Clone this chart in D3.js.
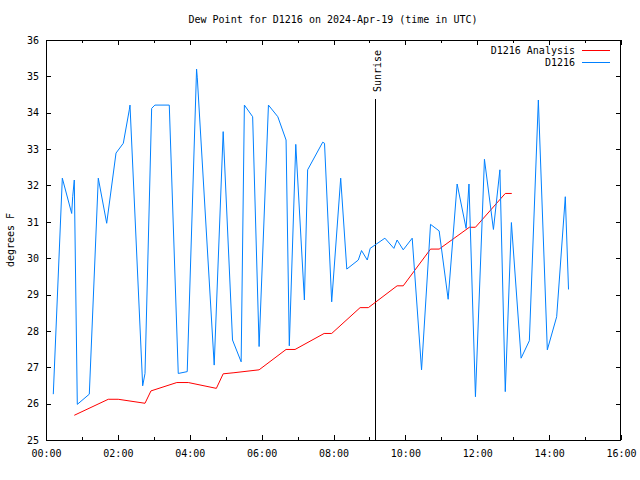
<!DOCTYPE html>
<html><head><meta charset="utf-8">
<script src="https://cdn.jsdelivr.net/npm/d3@7"></script>
<style>
html,body{margin:0;padding:0;background:#fff;}
text{font-family:"DejaVu Sans Mono",monospace;font-size:10px;fill:#000;}
</style></head>
<body>
<svg id="c" width="640" height="480"></svg>
<script>
// ---- data (hours UTC, degrees F) ----
const obsHours = [0.203,0.454,0.715,0.743,0.787,0.871,1.205,1.455,1.689,1.948,2.151,2.318,2.337,2.69,2.755,2.94,3.03,3.43,3.68,3.93,4.19,4.21,4.68,4.93,5.19,5.43,5.52,5.75,5.93,6.19,6.45,6.68,6.77,6.95,7.19,7.28,7.70,7.75,7.95,8.20,8.37,8.69,8.78,8.94,9.02,9.43,9.68,9.77,9.94,10.19,10.45,10.70,10.94,11.19,11.44,11.69,11.77,11.95,12.20,12.45,12.63,12.78,12.95,13.22,13.45,13.70,13.95,14.21,14.45,14.54];
const obsValues = [26.26,32.20,31.23,31.69,32.15,25.98,26.26,32.20,30.96,32.89,33.16,34.08,34.21,26.49,26.83,34.12,34.21,34.21,26.83,26.88,35.20,34.96,27.06,33.48,27.75,27.15,34.21,33.89,27.57,34.21,33.89,33.25,27.59,33.13,28.85,32.43,33.19,33.16,28.80,32.20,29.70,29.95,30.21,29.95,30.27,30.55,30.27,30.50,30.23,30.55,26.93,30.93,30.75,28.87,32.04,30.82,32.04,26.19,32.72,30.79,32.43,26.33,30.98,27.25,27.73,34.35,27.48,28.39,31.69,29.14];
const anaHours = [0.787,1.733,2.01,2.755,2.92,3.64,3.96,4.74,4.93,5.23,5.93,6.68,6.93,7.74,7.95,8.74,8.97,9.77,9.94,10.70,10.94,11.78,11.95,12.78,12.96];
const anaValues = [25.68,26.12,26.12,26.01,26.35,26.58,26.58,26.42,26.82,26.85,26.93,27.49,27.49,27.93,27.93,28.64,28.64,29.24,29.24,30.25,30.25,30.85,30.85,31.78,31.78];
const xTickHours = [0,2,4,6,8,10,12,14,16];
const xTickLabels = ["00:00","02:00","04:00","06:00","08:00","10:00","12:00","14:00","16:00"];
const xMinorHours = [1,3,5,7,9,11,13,15];
const yTicks = [25,26,27,28,29,30,31,32,33,34,35,36];
const sunriseHour = 9.16;
const titleText = "Dew Point for D1216 on 2024-Apr-19 (time in UTC)";
const yLabel = "degrees F";
const seriesNames = ["D1216 Analysis","D1216"];
const seriesColors = ["#ff0000","#0080ff"];

// ---- layout ----
const L=46, R=621, T=40, B=440;
const svg = d3.select("#c");
const x = d3.scaleLinear().domain([0,16]).range([L,R]);
const y = d3.scaleLinear().domain([25,36]).range([B,T]);

function styleAxis(g){
  g.selectAll(".domain").remove();
  g.selectAll("line").attr("stroke","#000").attr("shape-rendering","crispEdges");
  g.selectAll("text").attr("fill","#000").style("font-family",'"DejaVu Sans Mono",monospace').style("font-size","10px");
}
// bottom axis
svg.append("g").attr("transform",`translate(0,${B})`)
  .call(d3.axisBottom(x).tickValues(xTickHours).tickSize(-5).tickPadding(10)
    .tickFormat((d,i)=>xTickLabels[i])).call(styleAxis);
svg.append("g").attr("transform",`translate(0,${B})`)
  .call(d3.axisBottom(x).tickValues(xMinorHours).tickSize(-3).tickFormat("")).call(styleAxis);
// top mirror
svg.append("g").attr("transform",`translate(0,${T})`)
  .call(d3.axisTop(x).tickValues(xTickHours).tickSize(-5).tickFormat("")).call(styleAxis);
svg.append("g").attr("transform",`translate(0,${T})`)
  .call(d3.axisTop(x).tickValues(xMinorHours).tickSize(-3).tickFormat("")).call(styleAxis);
// left axis
svg.append("g").attr("transform",`translate(${L},0)`)
  .call(d3.axisLeft(y).tickValues(yTicks).tickSize(-5).tickPadding(7).tickFormat(d3.format("d"))).call(styleAxis);
// right mirror
svg.append("g").attr("transform",`translate(${R},0)`)
  .call(d3.axisRight(y).tickValues(yTicks).tickSize(-5).tickFormat("")).call(styleAxis);

// border
svg.append("rect").attr("x",L+0.5).attr("y",T+0.5).attr("width",R-L-1).attr("height",B-T)
  .attr("fill","none").attr("stroke","#000").attr("stroke-width",1);

// sunrise
svg.append("line").attr("x1",Math.round(x(sunriseHour))+0.5).attr("x2",Math.round(x(sunriseHour))+0.5)
  .attr("y1",99).attr("y2",B).attr("stroke","#000").attr("stroke-width",1);
svg.append("text").attr("transform",`translate(${Math.round(x(sunriseHour))+6},92) rotate(-90)`)
  .attr("text-anchor","start").text("Sunrise");

// series
const line = d3.line().x(d=>x(d[0])).y(d=>y(d[1]));
const anaData = anaHours.map((h,i)=>[h,anaValues[i]]);
const obsData = obsHours.map((h,i)=>[h,obsValues[i]]);
svg.append("path").datum(anaData).attr("d",line).attr("fill","none")
  .attr("stroke",seriesColors[0]).attr("stroke-width",1);
svg.append("path").datum(obsData).attr("d",line).attr("fill","none")
  .attr("stroke",seriesColors[1]).attr("stroke-width",1);

// legend
seriesNames.forEach((n,i)=>{
  const ly = 50.5 + i*12;
  svg.append("text").attr("x",575).attr("y",ly+3.5).attr("text-anchor","end").text(n);
  svg.append("line").attr("x1",582).attr("x2",610).attr("y1",ly).attr("y2",ly)
    .attr("stroke",seriesColors[i]).attr("stroke-width",1);
});

// title & y label
svg.append("text").attr("x",333).attr("y",23).attr("text-anchor","middle").text(titleText);
svg.append("text").attr("transform",`translate(14,240) rotate(-90)`).attr("text-anchor","middle").text(yLabel);
</script>
</body></html>
